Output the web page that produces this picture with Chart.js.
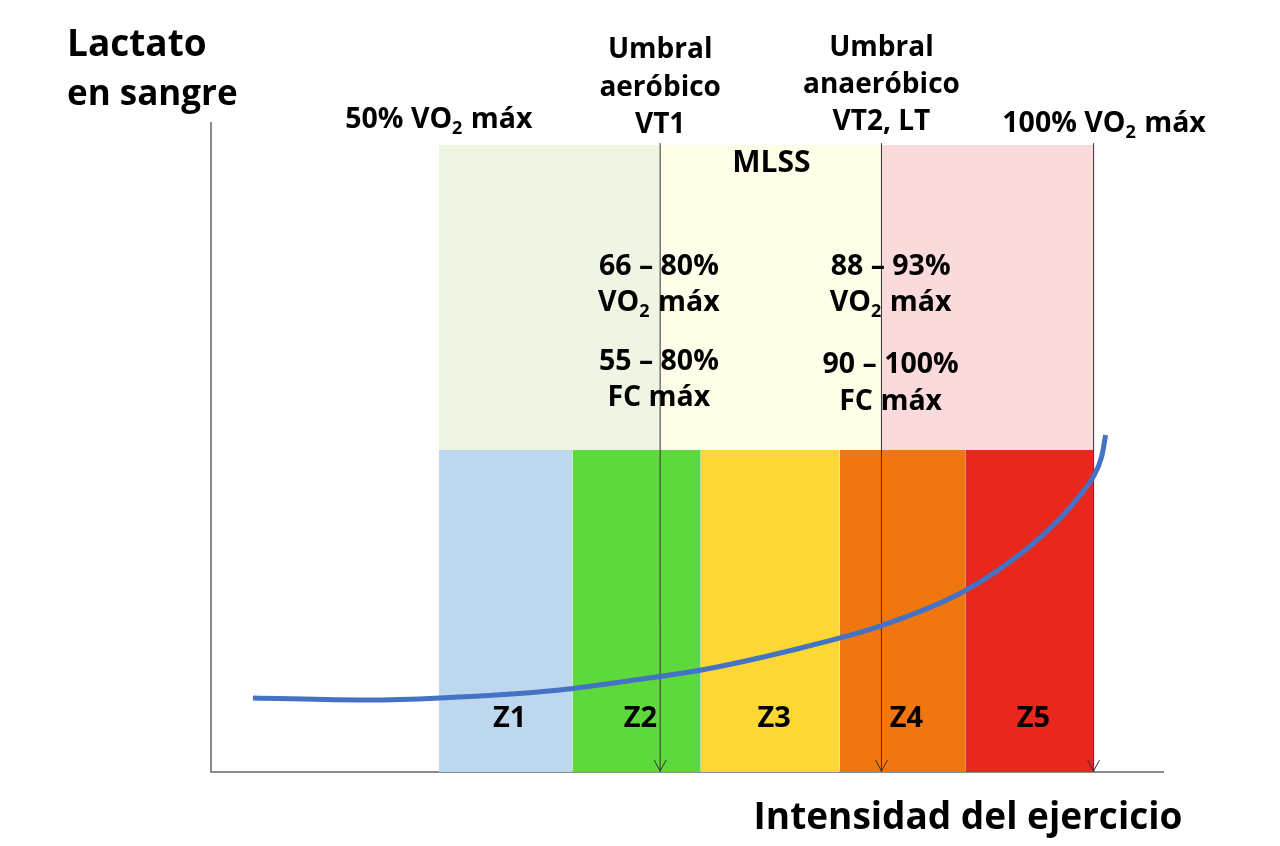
<!DOCTYPE html>
<html>
<head>
<meta charset="utf-8">
<script src="https://cdn.jsdelivr.net/npm/chart.js@4.4.1/dist/chart.umd.min.js"></script>
<style>
  html, body { margin: 0; padding: 0; background: #fff; }
  #wrap { width: 1280px; height: 846px; position: relative; }
</style>
</head>
<body>
<div id="wrap"><canvas id="lactateChart"></canvas></div>
<script>
// x axis = % VO2 max, y axis = blood lactate (arbitrary units)
const zoneBounds = [50, 60.2, 70, 80.6, 90.2, 100];
const zoneLabels = ['Z1', 'Z2', 'Z3', 'Z4', 'Z5'];
const zoneTop = 4.96;

const domainBounds = [50, 66.9, 83.8, 100];   // moderate / heavy / severe
const domainTop = 9.66;

const thresholdX = [66.9, 83.8, 100];         // VT1, VT2, 100% VO2 max

const curveX = [35.8, 44.5, 50.08, 59.24, 65.34, 70.05, 76.79, 83.79, 90.15, 94.89, 97.4, 99.16, 99.92, 100.61, 100.92];
const curveY = [1.14, 1.109, 1.14, 1.263, 1.428, 1.572, 1.869, 2.254, 2.789, 3.436, 3.898, 4.314, 4.53, 4.854, 5.193];

const zoneColors = ['#bdd7ee', '#5dd93b', '#fdd835', '#f0760f', '#e8271d'];
const domainColors = ['#eef5e3', '#fefee9', '#fadadb'];

const FONT = '"Open Sans", "Noto Sans", sans-serif';

// build datasets
const datasets = [];

datasets.push({
    label: 'Lactato',
    data: curveX.map((x, i) => ({ x: x, y: curveY[i] })),
    borderColor: '#4472c4',
    borderWidth: 5,
    borderCapStyle: 'butt',
    pointRadius: 0,
    cubicInterpolationMode: 'monotone',
    fill: false,
    order: 0
});

thresholdX.forEach(x => {
    datasets.push({
        label: 'umbral',
        data: [{ x: x, y: 0 }, { x: x, y: domainTop + 0.03 }],
        borderColor: '#333',
        borderWidth: 1,
        pointRadius: 0,
        fill: false,
        order: 1
    });
});

zoneLabels.forEach((z, i) => {
    datasets.push({
        label: z,
        data: [{ x: zoneBounds[i], y: zoneTop }, { x: zoneBounds[i + 1], y: zoneTop }],
        borderWidth: 0,
        pointRadius: 0,
        backgroundColor: zoneColors[i],
        fill: 'origin',
        order: 5
    });
});

domainColors.forEach((c, i) => {
    datasets.push({
        label: 'dominio ' + i,
        data: [{ x: domainBounds[i], y: domainTop }, { x: domainBounds[i + 1], y: domainTop }],
        borderWidth: 0,
        pointRadius: 0,
        backgroundColor: c,
        fill: { value: zoneTop },
        order: 6
    });
});

// draw text, "_2" means subscript 2
function drawRich(ctx, str, cx, cy, size, align) {
    const parts = str.split('_');
    const segs = [];
    parts.forEach((p, i) => {
        if (i === 0) { segs.push([p, false]); return; }
        segs.push([p.charAt(0), true]);
        segs.push([p.slice(1), false]);
    });
    const subSize = Math.round(size * 0.64);
    let total = 0;
    segs.forEach(s => {
        ctx.font = 'bold ' + (s[1] ? subSize : size) + 'px ' + FONT;
        s.push(ctx.measureText(s[0]).width + (s[1] ? 1 : 0));
        total += s[2];
    });
    let x = align === 'left' ? cx : cx - total / 2;
    ctx.textAlign = 'left';
    ctx.textBaseline = 'middle';
    segs.forEach(s => {
        ctx.font = 'bold ' + (s[1] ? subSize : size) + 'px ' + FONT;
        ctx.fillText(s[0], x, s[1] ? cy + size * 0.3 : cy);
        x += s[2];
    });
}

const labelPlugin = {
    id: 'labels',
    afterDatasetsDraw(chart) {
        const ctx = chart.ctx;
        const xs = chart.scales.x;
        const ys = chart.scales.y;
        ctx.save();

        // arrowheads at the bottom of threshold lines
        ctx.strokeStyle = '#333';
        ctx.lineWidth = 1;
        thresholdX.forEach(v => {
            const px = xs.getPixelForValue(v);
            const py = ys.getPixelForValue(0);
            ctx.beginPath();
            ctx.moveTo(px - 6, py - 12);
            ctx.lineTo(px, py - 1);
            ctx.lineTo(px + 6, py - 12);
            ctx.stroke();
        });

        ctx.fillStyle = '#000';
        const t = (lines, v, ys0, size) => {
            const cx = xs.getPixelForValue(v);
            lines.forEach((l, i) => drawRich(ctx, l, cx, ys0[i], size));
        };

        // axis titles
        drawRich(ctx, 'Lactato', 67, 45, 37, 'left');
        drawRich(ctx, 'en sangre', 67, 95, 35, 'left');
        drawRich(ctx, 'Intensidad del ejercicio', 968, 818, 37);

        t(['50% VO_2 máx'], zoneBounds[0], [120], 28.5);
        t(['Umbral', 'aeróbico', 'VT1'], thresholdX[0], [50, 88, 125], 28);
        t(['Umbral', 'anaeróbico', 'VT2, LT'], thresholdX[1], [48, 85, 122], 28);
        t(['100% VO_2 máx'], thresholdX[2] + 0.8, [124], 28.5);
        t(['MLSS'], 75.4, [163], 30);
        t(['66 – 80%', 'VO_2 máx', '55 – 80%', 'FC máx'], thresholdX[0] - 0.1, [267, 303, 362, 398], 28.5);
        t(['88 – 93%', 'VO_2 máx', '90 – 100%', 'FC máx'], thresholdX[1] + 0.7, [267, 303, 365, 402], 28.5);

        zoneLabels.forEach((z, i) => {
            t([z], (zoneBounds[i] + zoneBounds[i + 1]) / 2 + 0.3, [719], 29);
        });
        ctx.restore();
    }
};

const hideAxis = { display: false };

new Chart(document.getElementById('lactateChart'), {
    type: 'line',
    data: { datasets: datasets },
    options: {
        responsive: true,
        maintainAspectRatio: false,
        animation: false,
        layout: { padding: { left: 211, right: 117, top: 123, bottom: 74 } },
        plugins: { legend: { display: false }, tooltip: { enabled: false } },
        scales: {
            x: {
                type: 'linear',
                min: 32.6,
                max: 105.3,
                grid: { display: false },
                ticks: hideAxis,
                border: { color: '#8c8c8c', width: 2 },
                afterFit: s => { s.height = 0; }
            },
            y: {
                type: 'linear',
                min: 0,
                max: 10,
                grid: { display: false },
                ticks: hideAxis,
                border: { color: '#8c8c8c', width: 2 },
                afterFit: s => { s.width = 0; }
            }
        }
    },
    plugins: [labelPlugin]
});
</script>
</body>
</html>
